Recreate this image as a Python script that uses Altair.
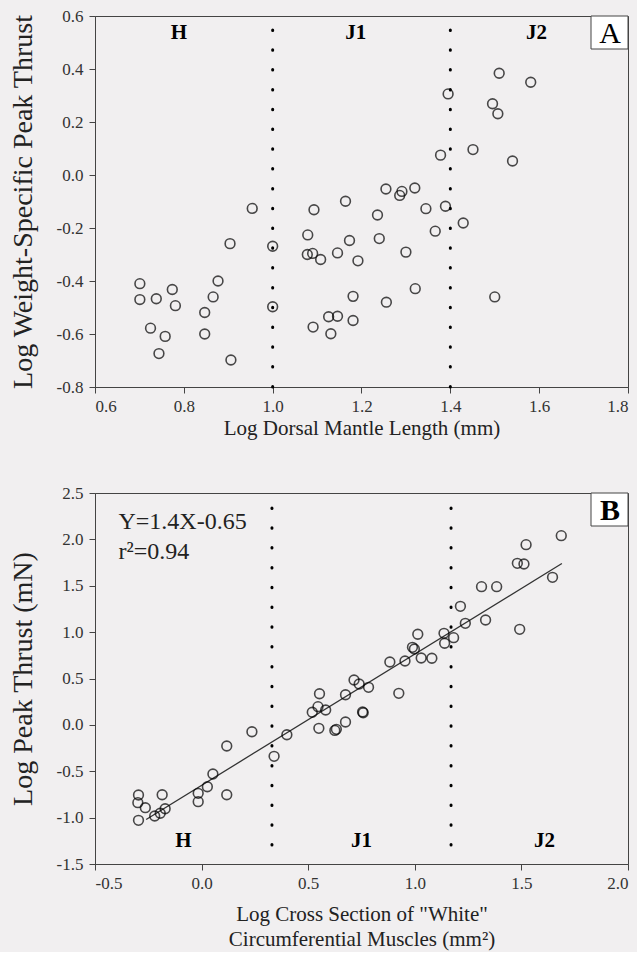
import altair as alt
import pandas as pd

# ---------------- Panel A data ----------------
a_x = [0.701, 0.701, 0.738, 0.774, 0.781, 0.725, 0.758, 0.744, 0.847, 0.847,
       0.866, 0.877, 0.904, 0.906, 0.954, 1.000, 1.000, 1.093, 1.079, 1.078,
       1.090, 1.108, 1.146, 1.164, 1.173, 1.192, 1.181, 1.091, 1.126, 1.146,
       1.131, 1.181, 1.236, 1.240, 1.255, 1.291, 1.286, 1.320, 1.345, 1.389,
       1.366, 1.429, 1.300, 1.321, 1.256, 1.500, 1.510, 1.581, 1.395, 1.495,
       1.507, 1.451, 1.378, 1.540]
a_y = [-0.410, -0.470, -0.467, -0.432, -0.493, -0.578, -0.609, -0.674, -0.519, -0.600,
       -0.460, -0.400, -0.259, -0.698, -0.126, -0.269, -0.497, -0.131, -0.226, -0.300,
       -0.296, -0.319, -0.294, -0.099, -0.247, -0.324, -0.458, -0.574, -0.535, -0.533,
       -0.599, -0.549, -0.151, -0.240, -0.053, -0.062, -0.077, -0.049, -0.127, -0.118,
       -0.212, -0.181, -0.291, -0.429, -0.480, -0.460, 0.384, 0.350, 0.306, 0.269,
       0.231, 0.096, 0.075, 0.053]
a_bounds = [1.0, 1.4]
a_stage = ["H", "J1", "J2"]
a_stage_x = [0.789, 1.187, 1.594]
a_stage_y = [0.536, 0.536, 0.536]
a_xticks = [0.6, 0.8, 1.0, 1.2, 1.4, 1.6, 1.8]
a_yticks = [-0.8, -0.6, -0.4, -0.2, 0.0, 0.2, 0.4, 0.6]

# ---------------- Panel B data ----------------
b_x = [-0.296, -0.299, -0.264, -0.296, -0.185, -0.220, -0.194, -0.171, -0.016, -0.016,
       0.027, 0.053, 0.118, 0.118, 0.236, 0.340, 0.400, 0.519, 0.553, 0.546,
       0.582, 0.550, 0.632, 0.625, 0.675, 0.675, 0.715, 0.739, 0.783, 0.758,
       0.755, 0.925, 0.883, 0.954, 1.030, 1.080, 1.014, 0.989, 0.998, 1.137,
       1.140, 1.182, 1.214, 1.237, 1.332, 1.313, 1.384, 1.492, 1.481, 1.512,
       1.522, 1.646, 1.687]
b_y = [-0.756, -0.839, -0.893, -1.029, -0.753, -0.982, -0.953, -0.904, -0.738, -0.828,
       -0.667, -0.530, -0.753, -0.228, -0.074, -0.339, -0.106, 0.136, 0.336, 0.196,
       0.160, -0.037, -0.048, -0.060, 0.031, 0.325, 0.484, 0.441, 0.405, 0.131,
       0.140, 0.340, 0.678, 0.689, 0.721, 0.718, 0.977, 0.836, 0.818, 0.987,
       0.880, 0.940, 1.278, 1.095, 1.131, 1.490, 1.490, 1.030, 1.742, 1.734,
       1.943, 1.591, 2.040]
b_bounds = [0.33, 1.17]
b_stage = ["H", "J1", "J2"]
b_stage_x = [-0.085, 0.750, 1.608]
b_stage_y = [-1.252, -1.252, -1.252]
fit_x = [-0.26, 1.69]
fit_y = [-1.02, 1.74]
eq_text = ["Y=1.4X-0.65", "r\u00b2=0.94"]
eq_x = [-0.39, -0.39]
eq_y = [2.187, 1.864]
b_xticks = [-0.5, 0.0, 0.5, 1.0, 1.5, 2.0]
b_yticks = [-1.5, -1.0, -0.5, 0.0, 0.5, 1.0, 1.5, 2.0, 2.5]

FONT = "Liberation Serif"
W, H = 533, 371
LBL = "replace(format(datum.value, '.1f'), '\u2212', '-')"


def xaxis(title, ticks, tpad):
    return alt.Axis(title=title, values=ticks, labelExpr=LBL, grid=False,
                    tickSize=6, labelPadding=5, titlePadding=tpad,
                    labelFontSize=17, titleFontSize=21, titleLineHeight=25)


def yaxis(title, ticks):
    return alt.Axis(title=title, values=ticks, labelExpr=LBL, grid=False,
                    tickSize=6, labelPadding=6, titlePadding=19,
                    labelFontSize=17, titleFontSize=28)


MARK = dict(shape="circle", filled=False, size=95, strokeWidth=1.6, color="black")
DOTS = dict(strokeDash=[0.5, 19.3], strokeWidth=3, strokeCap="round", color="black")

# ---------- Panel A ----------
ax = alt.Scale(domain=[0.6, 1.8], nice=False, zero=False)
ay = alt.Scale(domain=[-0.8, 0.6], nice=False, zero=False)
dfa = pd.DataFrame({"x": a_x, "y": a_y})
pts_a = alt.Chart(dfa).mark_point(**MARK).encode(
    x=alt.X("x:Q", scale=ax, axis=xaxis("Log Dorsal Mantle Length (mm)", a_xticks, 3)),
    y=alt.Y("y:Q", scale=ay, axis=yaxis("Log Weight-Specific Peak Thrust", a_yticks)),
)
rules_a = alt.Chart(pd.DataFrame({"b": a_bounds})).mark_rule(
    strokeDashOffset=5.8, **DOTS).encode(x=alt.X("b:Q", scale=ax))
stage_a = alt.Chart(pd.DataFrame({"t": a_stage, "x": a_stage_x, "y": a_stage_y})).mark_text(
    font=FONT, fontSize=21, fontWeight="bold", color="black", baseline="middle").encode(
    x=alt.X("x:Q", scale=ax), y=alt.Y("y:Q", scale=ay), text="t:N")
box_a = alt.Chart(pd.DataFrame({"k": [0]})).mark_rect(
    fill="white", stroke="#444", strokeWidth=1).encode(
    x=alt.value(W - 37), x2=alt.value(W), y=alt.value(0), y2=alt.value(33))
lab_a = alt.Chart(pd.DataFrame({"t": ["A"]})).mark_text(
    font=FONT, fontSize=30, color="black", baseline="middle").encode(
    x=alt.value(W - 18), y=alt.value(18), text="t:N")
panel_a = alt.layer(rules_a, pts_a, stage_a, box_a, lab_a).properties(width=W, height=H)

# ---------- Panel B ----------
bx = alt.Scale(domain=[-0.5, 2.0], nice=False, zero=False)
by = alt.Scale(domain=[-1.5, 2.5], nice=False, zero=False)
dfb = pd.DataFrame({"x": b_x, "y": b_y})
pts_b = alt.Chart(dfb).mark_point(**MARK).encode(
    x=alt.X("x:Q", scale=bx, axis=xaxis(['Log Cross Section of "White"',
                                          "Circumferential Muscles (mm\u00b2)"], b_xticks, 12)),
    y=alt.Y("y:Q", scale=by, axis=yaxis("Log Peak Thrust (mN)", b_yticks)),
)
fit = alt.Chart(pd.DataFrame({"x": fit_x, "y": fit_y})).mark_line(
    color="#333", strokeWidth=1.3).encode(
    x=alt.X("x:Q", scale=bx), y=alt.Y("y:Q", scale=by))
rules_b = alt.Chart(pd.DataFrame({"b": b_bounds})).mark_rule(
    strokeDashOffset=4.8, **DOTS).encode(x=alt.X("b:Q", scale=bx))
stage_b = alt.Chart(pd.DataFrame({"t": b_stage, "x": b_stage_x, "y": b_stage_y})).mark_text(
    font=FONT, fontSize=21, fontWeight="bold", color="black", baseline="middle").encode(
    x=alt.X("x:Q", scale=bx), y=alt.Y("y:Q", scale=by), text="t:N")
eq = alt.Chart(pd.DataFrame({"t": eq_text, "x": eq_x, "y": eq_y})).mark_text(
    font=FONT, fontSize=24, color="#222", align="left", baseline="middle").encode(
    x=alt.X("x:Q", scale=bx), y=alt.Y("y:Q", scale=by), text="t:N")
box_b = alt.Chart(pd.DataFrame({"k": [0]})).mark_rect(
    fill="white", stroke="#444", strokeWidth=1).encode(
    x=alt.value(W - 37), x2=alt.value(W), y=alt.value(0), y2=alt.value(33))
lab_b = alt.Chart(pd.DataFrame({"t": ["B"]})).mark_text(
    font=FONT, fontSize=30, fontWeight="bold", color="black", baseline="middle").encode(
    x=alt.value(W - 18), y=alt.value(18), text="t:N")
panel_b = alt.layer(rules_b, fit, pts_b, stage_b, eq, box_b, lab_b).properties(width=W, height=H)

chart = alt.vconcat(panel_a, panel_b, spacing=44).properties(
    background="#f1eff0",
    padding={"left": 8, "top": 6, "right": 8, "bottom": 2},
).configure_view(stroke="#444", strokeWidth=1).configure_axis(
    labelFont=FONT, titleFont=FONT, labelColor="#333", titleColor="#222",
    titleFontWeight="normal", domainColor="#444", tickColor="#444",
).configure_concat(spacing=44)

chart.save("out.html", embed_options={"renderer": "svg", "actions": False})
